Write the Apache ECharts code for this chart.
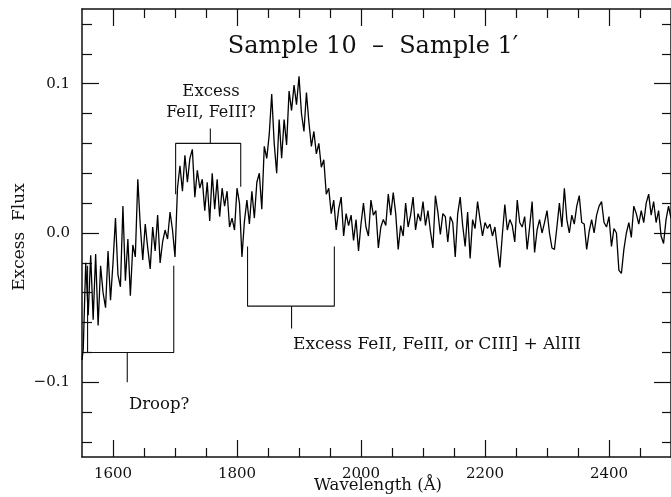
<!DOCTYPE html>
<html>
<head>
<meta charset="utf-8">
<script src="https://cdn.jsdelivr.net/npm/echarts@6/dist/echarts.min.js"></script>
<style>html,body{margin:0;padding:0;background:#fff;}#chart{width:671px;height:497px;}</style>
</head>
<body>
<div id="chart"></div>
<script>
// Excess flux spectrum: [wavelength (Å), excess flux]
const spectrum = [
 [1550,-0.085],[1552,-0.078],[1556,-0.020],[1560,-0.055],[1564,-0.015],[1568,-0.058],[1572,-0.014],[1576,-0.062],[1580,-0.022],[1584,-0.040],
 [1588,-0.050],[1592,-0.012],[1596,-0.045],[1600,-0.020],[1604,0.010],[1608,-0.028],[1612,-0.036],[1616,0.018],[1620,-0.032],[1624,-0.004],
 [1628,-0.042],[1632,-0.008],[1636,-0.016],[1640,0.036],[1644,0.005],[1648,-0.018],[1652,0.006],[1656,-0.010],[1660,-0.024],[1664,0.004],
 [1668,-0.012],[1672,0.012],[1676,-0.020],[1680,-0.006],[1684,0.002],[1688,-0.004],[1692,0.014],[1696,0.002],[1700,-0.016],
 [1704,0.030],[1708,0.045],[1712,0.028],[1716,0.052],[1720,0.034],[1724,0.050],[1728,0.056],[1732,0.024],[1736,0.042],[1740,0.030],
 [1744,0.036],[1748,0.015],[1752,0.034],[1756,0.008],[1760,0.040],[1764,0.016],[1768,0.036],[1772,0.011],[1776,0.030],[1780,0.018],
 [1784,0.028],[1788,0.004],[1792,0.010],[1796,0.002],[1800,0.030],[1804,0.020],[1808,-0.016],[1812,0.008],[1816,0.022],[1820,0.006],
 [1824,0.028],[1828,0.010],[1832,0.034],[1836,0.040],[1840,0.016],[1844,0.058],[1848,0.050],[1852,0.066],[1856,0.093],[1860,0.060],
 [1864,0.040],[1868,0.076],[1872,0.050],[1876,0.076],[1880,0.059],[1884,0.095],[1888,0.082],[1892,0.099],[1896,0.086],[1900,0.105],
 [1904,0.080],[1908,0.068],[1912,0.094],[1916,0.074],[1920,0.058],[1924,0.068],[1928,0.053],[1932,0.060],[1936,0.044],[1940,0.049],
 [1944,0.026],[1948,0.030],[1952,0.013],[1956,0.022],[1960,0.002],[1964,0.016],[1968,0.024],[1972,-0.002],[1976,0.013],[1980,0.005],
 [1984,0.012],[1988,-0.005],[1992,0.009],[1996,-0.012],[2000,0.006],[2004,0.020],[2008,0.004],[2012,-0.002],[2016,0.022],[2020,0.012],
 [2024,0.015],[2028,-0.010],[2032,0.004],[2036,0.009],[2040,0.005],[2044,0.026],[2048,0.012],[2052,0.027],[2056,0.013],[2060,-0.011],
 [2064,0.005],[2068,-0.002],[2072,0.020],[2076,0.004],[2080,0.012],[2084,0.024],[2088,0.002],[2092,0.013],[2096,0.008],[2100,0.021],
 [2104,0.005],[2108,0.015],[2112,0.001],[2116,-0.010],[2120,0.025],[2124,0.014],[2128,-0.001],[2132,0.013],[2136,0.011],[2140,-0.006],
 [2144,0.011],[2148,0.007],[2152,-0.016],[2156,0.013],[2160,0.024],[2164,0.005],[2168,-0.009],[2172,0.014],[2176,-0.017],[2180,0.009],
 [2184,0.003],[2188,0.021],[2192,0.009],[2196,-0.002],[2200,0.007],[2204,0.003],[2208,0.006],[2212,-0.002],[2216,0.004],[2220,-0.010],
 [2224,-0.023],[2228,-0.001],[2232,0.019],[2236,0.002],[2240,0.009],[2244,0.005],[2248,-0.006],[2252,0.022],[2256,0.007],[2260,0.004],
 [2264,0.011],[2268,-0.011],[2272,0.004],[2276,0.021],[2280,-0.013],[2284,0.002],[2288,0.009],[2292,0.000],[2296,0.007],[2300,0.015],
 [2304,0.000],[2308,-0.010],[2312,-0.011],[2316,0.004],[2320,0.020],[2324,0.004],[2328,0.030],[2332,0.009],[2336,0.000],[2340,0.012],
 [2344,0.006],[2348,0.018],[2352,0.025],[2356,0.007],[2360,0.006],[2364,-0.011],[2368,0.001],[2372,0.009],[2376,0.000],[2380,0.012],
 [2384,0.018],[2388,0.021],[2392,0.007],[2396,0.004],[2400,0.011],[2404,-0.009],[2408,0.003],[2412,0.000],[2416,-0.025],[2420,-0.027],
 [2424,-0.011],[2428,0.000],[2432,0.007],[2436,-0.003],[2440,0.018],[2444,0.013],[2448,0.006],[2452,0.015],[2456,0.007],[2460,0.020],
 [2464,0.026],[2468,0.012],[2472,0.021],[2476,0.007],[2480,0.015],[2484,-0.002],[2488,-0.007],[2492,0.009],[2496,0.018],[2500,0.010]
];

// Annotation brackets (data coordinates)
const droopBox = [[1559,-0.022],[1559,-0.08],[1698,-0.08],[1698,-0.022]];
const droopStem = [[1623,-0.08],[1623,-0.1]];
const feBox = [[1701,0.026],[1701,0.06],[1806,0.06],[1806,0.031]];
const feStem = [[1757,0.06],[1757,0.07]];
const alBox = [[1817,-0.009],[1817,-0.049],[1957,-0.049],[1957,-0.009]];
const alStem = [[1888,-0.049],[1888,-0.064]];

// Axis ticks
const xMajorTicks = [1600, 1800, 2000, 2200, 2400];
const xMinorTicks = [1650, 1700, 1750, 1850, 1900, 1950, 2050, 2100, 2150, 2250, 2300, 2350, 2450];
const yMajorTicks = [-0.1, 0, 0.1];
const yMinorTicks = [-0.14, -0.12, -0.08, -0.06, -0.04, -0.02, 0.02, 0.04, 0.06, 0.08, 0.12, 0.14];

const titleText = 'Sample 10  \u2013  Sample 1\u2032';
const xName = 'Wavelength (\u00C5)';
const yName = 'Excess  Flux';

const FONT = 'DejaVu Serif';
const INK = '#111';

function xAx(pos, ticks, len, labels, line) {
  return {
    type: 'value', position: pos, min: 1550, max: 2500, gridIndex: 0,
    axisLine: { show: line, onZero: false, lineStyle: { color: INK, width: 1.5 } },
    axisTick: { show: true, inside: true, length: len, customValues: ticks, lineStyle: { color: INK, width: 1.2 } },
    axisLabel: { show: labels, customValues: ticks, margin: 10, color: INK, fontFamily: FONT, fontSize: 15,
      formatter: v => String(Math.round(v)) },
    splitLine: { show: false }
  };
}
function yAx(pos, ticks, len, labels, line) {
  return {
    type: 'value', position: pos, min: -0.15, max: 0.15, gridIndex: 0,
    axisLine: { show: line, onZero: false, lineStyle: { color: INK, width: 1.5 } },
    axisTick: { show: true, inside: true, length: len, customValues: ticks, lineStyle: { color: INK, width: 1.2 } },
    axisLabel: { show: labels, customValues: ticks, margin: 12, color: INK, fontFamily: FONT, fontSize: 15,
      formatter: v => (Math.abs(v) < 1e-9 ? '0.0' : (v < 0 ? '\u2212' + Math.abs(v).toFixed(1) : v.toFixed(1))) },
    splitLine: { show: false }
  };
}

function seg(data, w) {
  return { type: 'line', data: data, xAxisIndex: 0, yAxisIndex: 0, showSymbol: false, symbol: 'none',
    lineStyle: { color: INK, width: w || 1.1 }, silent: true, animation: false, z: 3 };
}

const chart = echarts.init(document.getElementById('chart'), null, { renderer: 'canvas' });
chart.setOption({
  backgroundColor: '#fff',
  animation: false,
  grid: { left: 82, top: 9, width: 590, height: 448, containLabel: false },
  xAxis: [
    xAx('bottom', xMajorTicks, 17, true, true),
    xAx('bottom', xMinorTicks, 9, false, false),
    xAx('top', xMajorTicks, 17, false, true),
    xAx('top', xMinorTicks, 9, false, false)
  ],
  yAxis: [
    yAx('left', yMajorTicks, 17, true, true),
    yAx('left', yMinorTicks, 10, false, false),
    yAx('right', yMajorTicks, 17, false, true),
    yAx('right', yMinorTicks, 9, false, false)
  ],
  series: [
    { type: 'line', data: spectrum, xAxisIndex: 0, yAxisIndex: 0, showSymbol: false, symbol: 'none',
      lineStyle: { color: '#000', width: 1.3 }, clip: true, silent: true, animation: false, z: 4 },
    seg(droopBox), seg(droopStem), seg(feBox), seg(feStem), seg(alBox), seg(alStem)
  ],
  graphic: [
    { type: 'text', style: { text: titleText, x: 373, y: 47, align: 'center', verticalAlign: 'middle', font: '24px "' + FONT + '"', fill: INK } },
    { type: 'text', style: { text: 'Excess', x: 211, y: 92, align: 'center', verticalAlign: 'middle', font: '16.5px "' + FONT + '"', fill: INK } },
    { type: 'text', style: { text: 'FeII, FeIII?', x: 211, y: 113, align: 'center', verticalAlign: 'middle', font: '16px "' + FONT + '"', fill: INK } },
    { type: 'text', style: { text: 'Droop?', x: 129, y: 405, align: 'left', verticalAlign: 'middle', font: '16.5px "' + FONT + '"', fill: INK } },
    { type: 'text', style: { text: 'Excess FeII, FeIII, or CIII] + AlIII', x: 293, y: 345, align: 'left', verticalAlign: 'middle', font: '17px "' + FONT + '"', fill: INK } },
    { type: 'text', style: { text: xName, x: 378, y: 486, align: 'center', verticalAlign: 'middle', font: '16.5px "' + FONT + '"', fill: INK } },
    { type: 'text', rotation: Math.PI / 2, x: 20, y: 237, style: { text: yName, x: 0, y: 0, align: 'center', verticalAlign: 'middle', font: '17px "' + FONT + '"', fill: INK } }
  ]
});
</script>
</body>
</html>
